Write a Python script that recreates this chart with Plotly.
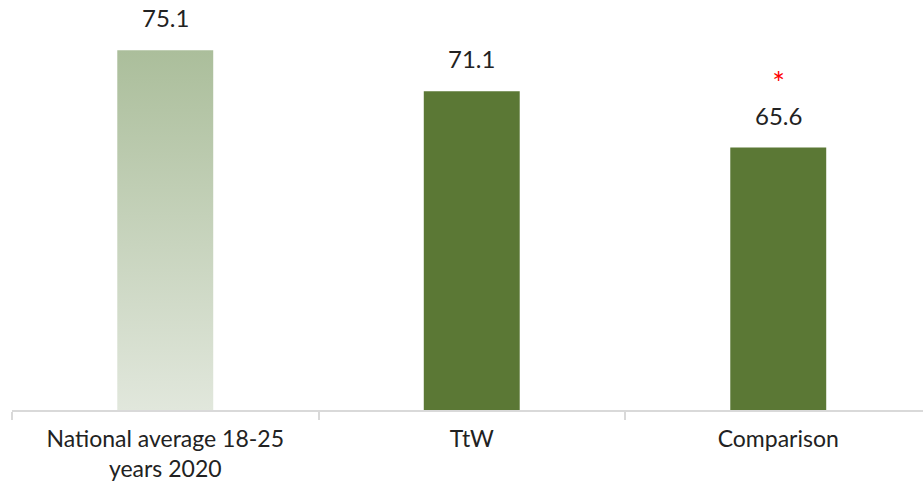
import plotly.graph_objects as go

# Mean scores by group
categories = ["National average 18-25<br>years 2020", "TtW", "Comparison"]
values = [75.1, 71.1, 65.6]
significance = ["", "", "*"]

axis_min, axis_max = 40, 80
bar_width = 0.313
dark_green = "#5b7835"
text_color = "#222222"
font_family = "Lato, 'Open Sans', sans-serif"

xs = list(range(len(categories)))

fig = go.Figure()

# Group bars (the national reference bar is drawn separately with a gradient)
fig.add_trace(go.Bar(
    x=xs[1:], y=values[1:], width=bar_width,
    marker=dict(color=dark_green, line=dict(width=0)),
    hoverinfo="skip", showlegend=False,
))

# National reference bar with a soft gradient fill
x0 = xs[0]
fig.add_trace(go.Scatter(
    x=[x0 - bar_width / 2, x0 + bar_width / 2, x0 + bar_width / 2, x0 - bar_width / 2, x0 - bar_width / 2],
    y=[axis_min, axis_min, values[0], values[0], axis_min],
    mode="lines", line=dict(width=0),
    fill="toself",
    fillgradient=dict(type="vertical",
                      colorscale=[[0, "#e1e7dc"], [1, "#abbe9b"]]),
    hoverinfo="skip", showlegend=False,
))

# Value labels, with a red significance marker stacked above where needed
for x, v, sig in zip(xs, values, significance):
    label = f"{v:.1f}"
    if sig:
        label = f"<span style='color:#ff0000;font-size:30px'>{sig}</span><br>{label}"
    fig.add_annotation(x=x, y=v, text=label, showarrow=False,
                       yanchor="bottom", yshift=16,
                       font=dict(family=font_family, size=24, color=text_color))

fig.update_layout(
    width=923, height=488,
    margin=dict(l=12, r=0, t=0, b=78),
    plot_bgcolor="white", paper_bgcolor="white",
    showlegend=False,
    font=dict(family=font_family, size=23, color=text_color),
)

fig.update_xaxes(
    range=[-0.5, -0.5 + 911 / 306.5],
    tickmode="array", tickvals=xs, ticktext=categories,
    ticks="", ticklabelstandoff=8,
    showline=True, linecolor="#d9d9d9", linewidth=1.5,
    showgrid=False, zeroline=False,
    minor=dict(tickmode="array", tickvals=[x - 0.5 for x in xs],
               ticks="outside", ticklen=8, tickcolor="#d9d9d9", tickwidth=1.5,
               showgrid=False),
)
fig.update_yaxes(range=[axis_min, axis_max], visible=False)

fig.write_html("out.html")
